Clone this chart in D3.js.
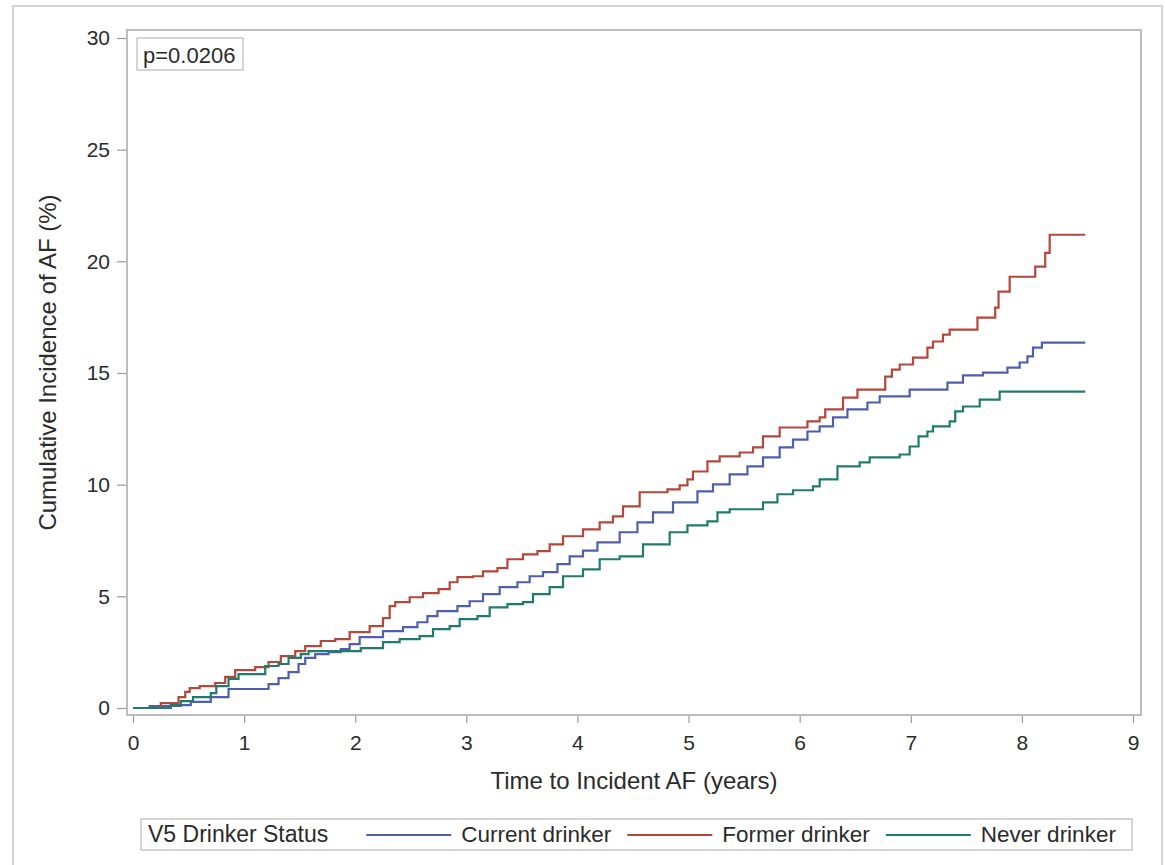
<!DOCTYPE html>
<html>
<head>
<meta charset="utf-8">
<script src="https://cdn.jsdelivr.net/npm/d3@7"></script>
<style>
  body { margin: 0; background: #fff; }
  text { font-family: "Liberation Sans", Arial, sans-serif; fill: #2b2b2b; }
</style>
</head>
<body>
<svg id="chart"></svg>
<script>
// cumulative incidence (%), [years, percent] at each step
const current = [
  [0, 0], [0.15, 0.09], [0.43, 0.13], [0.52, 0.27], [0.70, 0.49], [0.86, 0.85],
  [1.22, 1.07], [1.31, 1.34], [1.40, 1.61], [1.49, 1.97], [1.55, 2.24], [1.64, 2.41],
  [1.76, 2.50], [1.87, 2.64], [1.95, 2.86], [2.04, 3.17], [2.25, 3.44], [2.43, 3.62],
  [2.56, 3.84], [2.65, 4.11], [2.74, 4.34], [2.92, 4.56], [3.03, 4.78], [3.15, 5.10],
  [3.30, 5.41], [3.46, 5.63], [3.57, 5.90], [3.69, 6.08], [3.82, 6.44], [3.93, 6.79],
  [4.05, 7.05], [4.18, 7.42], [4.38, 7.87], [4.54, 8.31], [4.68, 8.76], [4.86, 9.21],
  [5.08, 9.70], [5.22, 10.01], [5.37, 10.46], [5.53, 10.82], [5.67, 11.22], [5.82, 11.67],
  [5.94, 12.02], [6.07, 12.38], [6.18, 12.61], [6.30, 13.01], [6.43, 13.37], [6.61, 13.68],
  [6.72, 13.95], [6.99, 14.26], [7.33, 14.57], [7.47, 14.89], [7.65, 15.02], [7.87, 15.24],
  [7.98, 15.47], [8.05, 15.74], [8.10, 16.14], [8.18, 16.36], [8.57, 16.36]
];
const former = [
  [0, 0], [0.25, 0.22], [0.41, 0.49], [0.47, 0.72], [0.51, 0.89], [0.60, 0.98],
  [0.74, 1.12], [0.83, 1.39], [0.92, 1.70], [1.10, 1.83], [1.22, 2.06], [1.33, 2.32],
  [1.46, 2.55], [1.55, 2.77], [1.69, 3.00], [1.82, 3.08], [1.95, 3.40], [2.13, 3.67],
  [2.25, 4.02], [2.31, 4.56], [2.36, 4.74], [2.49, 4.96], [2.61, 5.14], [2.75, 5.32],
  [2.85, 5.63], [2.92, 5.86], [3.06, 5.90], [3.15, 6.12], [3.28, 6.26], [3.37, 6.66],
  [3.51, 6.88], [3.64, 7.02], [3.75, 7.33], [3.87, 7.69], [4.05, 8.00], [4.20, 8.31],
  [4.32, 8.58], [4.41, 9.03], [4.56, 9.66], [4.81, 9.79], [4.92, 9.97], [4.99, 10.24],
  [5.04, 10.59], [5.17, 11.04], [5.28, 11.27], [5.46, 11.44], [5.58, 11.67], [5.67, 12.16],
  [5.82, 12.56], [6.07, 12.83], [6.18, 13.01], [6.23, 13.37], [6.39, 13.90], [6.52, 14.26],
  [6.77, 14.84], [6.83, 15.15], [6.90, 15.38], [7.02, 15.69], [7.15, 16.14], [7.20, 16.41],
  [7.29, 16.72], [7.35, 16.94], [7.60, 17.48], [7.76, 17.93], [7.79, 18.64], [7.89, 19.31],
  [8.12, 19.76], [8.21, 20.38], [8.25, 21.19], [8.57, 21.19]
];
const never = [
  [0, 0], [0.34, 0.13], [0.43, 0.31], [0.54, 0.49], [0.70, 0.67], [0.75, 0.98],
  [0.86, 1.30], [0.95, 1.52], [1.19, 1.88], [1.31, 1.97], [1.40, 2.24], [1.51, 2.41],
  [1.58, 2.55], [2.05, 2.68], [2.25, 2.95], [2.40, 3.08], [2.58, 3.22], [2.70, 3.53],
  [2.85, 3.67], [2.94, 3.98], [3.10, 4.11], [3.21, 4.51], [3.37, 4.65], [3.51, 4.74],
  [3.60, 5.10], [3.75, 5.41], [3.87, 5.90], [4.05, 6.21], [4.20, 6.66], [4.38, 6.79],
  [4.59, 7.33], [4.83, 7.87], [4.99, 8.18], [5.17, 8.36], [5.26, 8.76], [5.37, 8.90],
  [5.67, 9.21], [5.80, 9.57], [5.94, 9.75], [6.12, 9.92], [6.18, 10.24], [6.34, 10.82],
  [6.54, 11.00], [6.63, 11.22], [6.90, 11.35], [6.99, 11.71], [7.07, 12.16], [7.15, 12.38],
  [7.20, 12.61], [7.35, 12.83], [7.40, 13.28], [7.47, 13.50], [7.62, 13.81], [7.80, 14.17],
  [8.57, 14.17]
];

const seriesNames = ["Current drinker", "Former drinker", "Never drinker"];
const seriesColors = ["#4f5fae", "#b4473b", "#1f7c6d"];
const xTicks = [0, 1, 2, 3, 4, 5, 6, 7, 8, 9];
const yTicks = [0, 5, 10, 15, 20, 25, 30];
const pValue = "p=0.0206";

const width = 1165;
const height = 865;

const svg = d3.select("#chart")
  .attr("width", width)
  .attr("height", height);

// outer border of the figure
svg.append("rect")
  .attr("x", 13).attr("y", 6)
  .attr("width", 1149).attr("height", 866)
  .attr("fill", "none")
  .attr("stroke", "#d4d4d4")
  .attr("stroke-width", 2);

const frame = {left: 127, right: 1141, top: 30, bottom: 715};

const x = d3.scaleLinear().domain([0, 9]).range([133, 1133]);
const y = d3.scaleLinear().domain([0, 30]).range([708, 38]);

// axes
const xAxis = svg.append("g")
  .attr("transform", `translate(0,${frame.bottom})`)
  .call(d3.axisBottom(x).tickValues(xTicks).tickSize(8).tickPadding(12));

const yAxis = svg.append("g")
  .attr("transform", `translate(${frame.left},0)`)
  .call(d3.axisLeft(y).tickValues(yTicks).tickSize(10).tickPadding(7));

[xAxis, yAxis].forEach(ax => {
  ax.select(".domain").remove();
  ax.selectAll(".tick line").attr("stroke", "#9a9a9a").attr("stroke-width", 1.2);
  ax.selectAll(".tick text")
    .attr("font-size", 21)
    .attr("font-family", "Liberation Sans, Arial, sans-serif")
    .attr("fill", "#2b2b2b");
});

// plot frame
svg.append("rect")
  .attr("x", frame.left).attr("y", frame.top)
  .attr("width", frame.right - frame.left)
  .attr("height", frame.bottom - frame.top)
  .attr("fill", "none")
  .attr("stroke", "#bdbdbd")
  .attr("stroke-width", 2);

// curves
const line = d3.line()
  .x(d => x(d[0]))
  .y(d => y(d[1]))
  .curve(d3.curveStepAfter);

const series = [current, former, never];

svg.append("g")
  .selectAll("path")
  .data(series)
  .join("path")
  .attr("fill", "none")
  .attr("stroke", (d, i) => seriesColors[i])
  .attr("stroke-width", 2.2)
  .attr("d", line);

// p-value box
svg.append("rect")
  .attr("x", 137).attr("y", 38)
  .attr("width", 106).attr("height", 32)
  .attr("fill", "#fff")
  .attr("stroke", "#c8c8c8")
  .attr("stroke-width", 1.5);
svg.append("text")
  .attr("x", 143).attr("y", 63)
  .attr("font-size", 22)
  .text(pValue);

// axis titles
svg.append("text")
  .attr("x", (frame.left + frame.right) / 2)
  .attr("y", 789)
  .attr("text-anchor", "middle")
  .attr("font-size", 24)
  .text("Time to Incident AF (years)");

svg.append("text")
  .attr("transform", `translate(56,${(frame.top + frame.bottom) / 2 - 10}) rotate(-90)`)
  .attr("text-anchor", "middle")
  .attr("font-size", 24)
  .text("Cumulative Incidence of AF (%)");

// legend
const legend = svg.append("g");
legend.append("rect")
  .attr("x", 141).attr("y", 819)
  .attr("width", 991).attr("height", 31)
  .attr("fill", "none")
  .attr("stroke", "#c8c8c8")
  .attr("stroke-width", 1.5);

const title = legend.append("text")
  .attr("x", 148).attr("y", 842)
  .attr("font-size", 23)
  .text("V5 Drinker Status");

let cursor = 148 + title.node().getComputedTextLength() + 38;
seriesNames.forEach((name, i) => {
  legend.append("line")
    .attr("x1", cursor).attr("x2", cursor + 85)
    .attr("y1", 835).attr("y2", 835)
    .attr("stroke", seriesColors[i])
    .attr("stroke-width", 2);
  const t = legend.append("text")
    .attr("x", cursor + 95).attr("y", 842)
    .attr("font-size", 22.5)
    .text(name);
  cursor += 95 + t.node().getComputedTextLength() + 16;
});
</script>
</body>
</html>
